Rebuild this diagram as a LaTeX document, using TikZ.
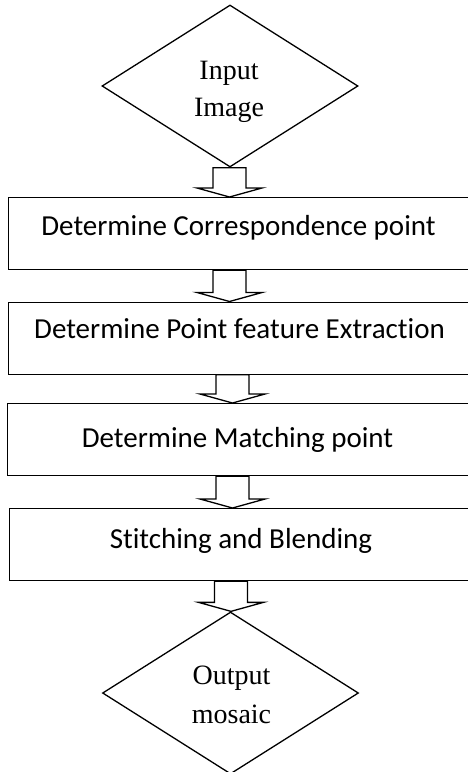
\documentclass[tikz,border=0pt]{standalone}
\usepackage{fontspec}
\setmainfont{Liberation Serif}
\newfontfamily\calib[Ligatures=NoCommon]{Carlito}
\usetikzlibrary{shapes.geometric,calc}
\tikzset{
  decision/.style={shape=diamond, draw, line width=1.3pt, inner sep=0pt, minimum width=256pt, minimum height=162pt},
  stepbox/.style={shape=rectangle, draw, line width=1.3pt, inner sep=0pt, anchor=north west, minimum height=72pt},
  serif/.style={font=\fontsize{28}{34}\selectfont, anchor=base, inner sep=0pt},
  boxtext/.style={font=\calib\fontsize{29}{34}\selectfont, anchor=base, inner sep=0pt},
  arr/.style={draw, line width=1.3pt, fill=white, line join=miter}
}
\newcommand\blockarr[3]{%
  \draw[arr] let \p1=(#1.south), \p2=(#2.north) in
    (#3pt-16.5pt,\y1) -- (#3pt+16.5pt,\y1) -- (#3pt+16.5pt,\y2+9pt) -- (#3pt+32.5pt,\y2+9pt)
    -- (#3pt,\y2) -- (#3pt-32.5pt,\y2+9pt) -- (#3pt-16.5pt,\y2+9pt) -- cycle;}
\begin{document}
\begin{tikzpicture}[x=1pt,y=-1pt]
\useasboundingbox (0,0) rectangle (468,772);
\clip (0,0) rectangle (468,772);
\fill[white] (0,0) rectangle (468,772);
% decisions
\node[decision] (inp) at (230,86) {};
\node[serif] (inpA) at (229,79) {Input};
\node[serif] (inpB) at (229,116.5) {Image};
% boxes
\node[stepbox, minimum width=462.5pt] (b1) at (7.5,197) {};
\node[boxtext] (t1) at (238.5,235) {Determine Correspondence point};
\node[stepbox, minimum width=462pt] (b2) at (8,301.5) {};
\node[boxtext] (t2) at (239.5,338) {Determine Point feature Extraction};
\node[stepbox, minimum width=463pt] (b3) at (7,403) {};
\node[boxtext] (t3) at (237.5,447) {Determine Matching point};
\node[stepbox, minimum width=461.5pt] (b4) at (8.5,508) {};
\node[boxtext] (t4) at (241,548) {Stitching and Blending};
% output
\node[decision] (out) at (230.5,693) {};
\node[serif] (outA) at (231.5,684) {Output};
\node[serif] (outB) at (231.5,723) {mosaic};
% arrows
\blockarr{inp}{b1}{229.5}
\blockarr{b1}{b2}{229.5}
\blockarr{b2}{b3}{232.5}
\blockarr{b3}{b4}{232.5}
\blockarr{b4}{out}{231}
\end{tikzpicture}
\end{document}
